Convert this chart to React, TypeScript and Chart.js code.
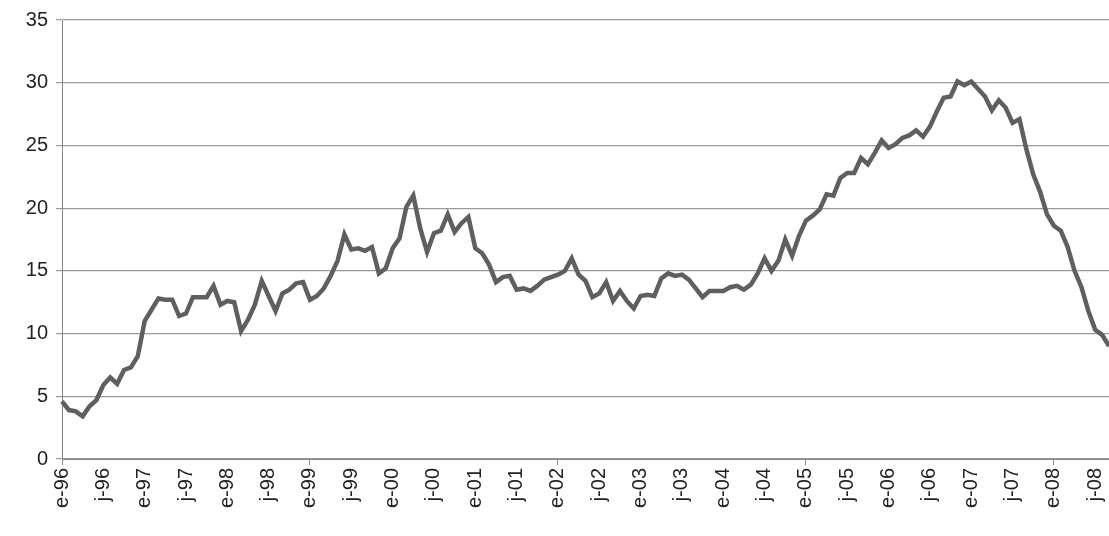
import React, { useEffect, useRef } from 'react';
import Chart from 'chart.js/auto';

const monthInitials = ['e', 'f', 'm', 'a', 'm', 'j', 'j', 'a', 's', 'o', 'n', 'd'];
const years = ['96', '97', '98', '99', '00', '01', '02', '03', '04', '05', '06', '07', '08'];

const values = [
  4.6, 3.9, 3.8, 3.4, 4.2, 4.7, 5.9, 6.5, 6.0, 7.1, 7.3, 8.2,
  11.0, 11.9, 12.8, 12.7, 12.7, 11.4, 11.6, 12.9, 12.9, 12.9, 13.8, 12.3,
  12.6, 12.5, 10.2, 11.1, 12.3, 14.2, 13.0, 11.8, 13.2, 13.5, 14.0, 14.1,
  12.7, 13.0, 13.6, 14.6, 15.8, 17.9, 16.7, 16.8, 16.6, 16.9, 14.8, 15.2,
  16.8, 17.6, 20.1, 21.0, 18.4, 16.5, 18.0, 18.2, 19.5, 18.1, 18.8, 19.3,
  16.8, 16.4, 15.5, 14.1, 14.5, 14.6, 13.5, 13.6, 13.4, 13.8, 14.3, 14.5,
  14.7, 15.0, 16.0, 14.7, 14.2, 12.9, 13.2, 14.1, 12.6, 13.4, 12.6, 12.0,
  13.0, 13.1, 13.0, 14.4, 14.8, 14.6, 14.7, 14.3, 13.6, 12.9, 13.4, 13.4,
  13.4, 13.7, 13.8, 13.5, 13.9, 14.8, 16.0, 15.0, 15.8, 17.5, 16.2, 17.8,
  19.0, 19.4, 19.9, 21.1, 21.0, 22.4, 22.8, 22.8, 24.0, 23.5, 24.4, 25.4,
  24.8, 25.1, 25.6, 25.8, 26.2, 25.7, 26.5, 27.7, 28.8, 28.9, 30.1, 29.8,
  30.1, 29.5, 28.9, 27.8, 28.6, 28.0, 26.8, 27.1, 24.7, 22.7, 21.3, 19.5,
  18.6, 18.2, 16.9, 15.0, 13.7, 11.8, 10.3, 9.9, 9.0,
];

const labels = values.map((_, i) => `${monthInitials[i % 12]}-${years[Math.floor(i / 12)]}`);

export default function App() {
  const chartRef = useRef<HTMLCanvasElement>(null);

  useEffect(() => {
    if (!chartRef.current) return;
    document.body.style.margin = '0';
    const font = { family: '"Liberation Sans", Arial, sans-serif', size: 20 };

    const chart = new Chart(chartRef.current, {
      type: 'line',
      data: {
        labels,
        datasets: [
          {
            data: values,
            borderColor: '#5f5f5f',
            borderWidth: 4.5,
            pointRadius: 0,
            tension: 0,
          },
        ],
      },
      options: {
        animation: false,
        responsive: true,
        maintainAspectRatio: false,
        layout: { padding: { top: 18, right: 0, left: 0, bottom: 0 } },
        plugins: { legend: { display: false }, tooltip: { enabled: false } },
        scales: {
          x: {
            offset: false,
            afterFit: (s: any) => { s.height = 77; s.paddingRight = 0; },
            grid: {
              drawOnChartArea: false,
              tickLength: 6,
              color: (ctx: any) => (ctx.index % 6 === 0 ? '#888' : 'transparent'),
            },
            border: { color: '#888' },
            ticks: {
              autoSkip: false,
              minRotation: 90,
              maxRotation: 90,
              color: '#222',
              font,
              padding: 3,
              callback: (_v: any, i: number) => (i % 6 === 0 ? labels[i] : null),
            },
          },
          y: {
            min: 0,
            max: 35,
            afterFit: (s: any) => { s.width = 62; },
            grid: { color: '#999', tickLength: 6, lineWidth: 1.2 },
            border: { color: '#888' },
            ticks: { stepSize: 5, color: '#222', font, padding: 8 },
          },
        },
      },
    });

    return () => chart.destroy();
  }, []);

  return (
    <div style={{ width: 1109, height: 536 }}>
      <canvas ref={chartRef} />
    </div>
  );
}
